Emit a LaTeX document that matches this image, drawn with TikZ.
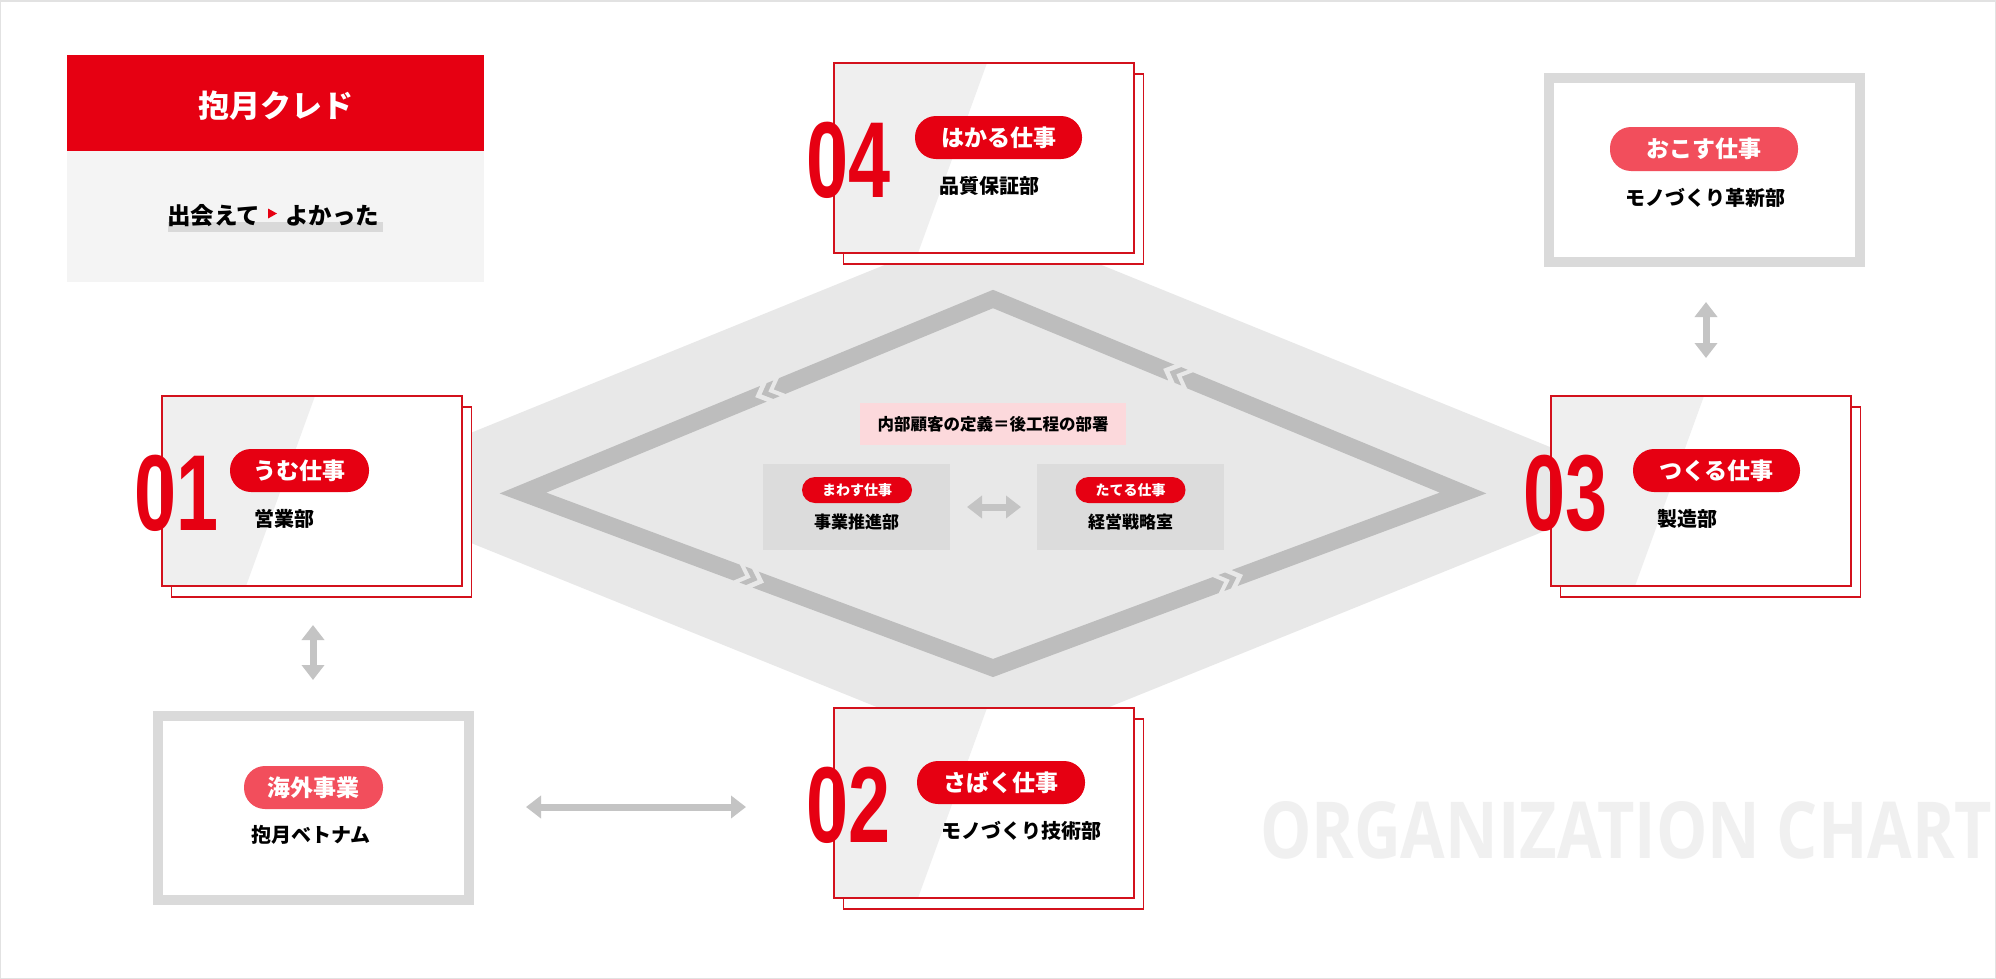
\documentclass[tikz,border=0pt]{standalone}
\usepackage{fontspec}
\usepackage{graphicx}
\newfontfamily\jp{Noto Sans CJK JP}
\newfontfamily\numfont{Liberation Sans}
\newfontfamily\enfont{Open Sans}
\usetikzlibrary{arrows.meta}
\definecolor{cred}{HTML}{E60012}
\definecolor{cline}{HTML}{D3111C}
\definecolor{cpink}{HTML}{F24E5C}
\definecolor{crhomb}{HTML}{E8E8E8}
\definecolor{cband}{HTML}{BDBDBD}
\definecolor{cslant}{HTML}{EFEFEF}
\definecolor{cframe}{HTML}{DADADA}
\definecolor{csub}{HTML}{DCDCDC}
\definecolor{clabel}{HTML}{FCD9DC}
\definecolor{ccredo}{HTML}{F4F4F4}
\definecolor{carrow}{HTML}{C4C4C4}
\definecolor{cborder}{HTML}{E2E2E2}
\definecolor{cwm}{HTML}{F0F0F0}
\definecolor{chl}{HTML}{D9D9D9}
\newcommand\deptbox[8]{%
  \node[deptback] (#1b) at (#2+9.5,#3+11) {};
  \fill[white] (#2,#3) rectangle (#2+300,#3+190);
  \fill[cslant] (#2,#3) -- (#2+153,#3) -- (#2+84,#3+190) -- (#2,#3+190) -- cycle;
  \node[deptfront] (#1) at (#2,#3) {};
  \node[bignum] (#1n) at (#2-28,#3+134) {\scalebox{0.7}[1]{#4}};
  \node[pill, minimum width=#6bp, anchor=north west] (#1p) at (#5,#3+53) {#7};
  \node[subtxt, anchor=west] (#1s) at (#5+24,#3+123) {#8};
}
\newcommand\chev[3]{%
  \begin{scope}[shift={(#1,#2)}, rotate=#3]
    \fill[crhomb] (-13,9.6) -- (-13,8.5) -- (-4,0) -- (-13,-8.5) -- (-13,-9.6) -- (7,-9.6) -- (7,-8.5) -- (16,0) -- (7,8.5) -- (7,9.6) -- cycle;
    \fill[cband] (-7,8.5) -- (2,0) -- (-7,-8.5) -- (0,-8.5) -- (9,0) -- (0,8.5) -- cycle;
  \end{scope}}
\begin{document}
\begin{tikzpicture}[x=1bp,y=-1bp,
  every node/.style={inner sep=0pt, outer sep=0pt},
  deptline/.style={draw=cline, line width=1.6bp},
  deptback/.style={deptline, fill=white, minimum width=300bp, minimum height=190bp, anchor=north west},
  deptfront/.style={deptline, minimum width=300bp, minimum height=190bp, anchor=north west},
  bignum/.style={text=cred, font=\numfont\bfseries\fontsize{108bp}{108bp}\selectfont, anchor=base west},
  pill/.style={fill=cred, text=white, rounded corners=21bp, minimum height=43bp, font=\jp\bfseries\fontsize{23bp}{23bp}\selectfont},
  pinkpill/.style={pill, fill=cpink},
  smallpill/.style={fill=cred, text=white, rounded corners=13bp, minimum height=26bp, minimum width=110bp, font=\jp\bfseries\fontsize{14bp}{14bp}\selectfont},
  subtxt/.style={text=black, font=\jp\bfseries\fontsize{20bp}{20bp}\selectfont},
  smalltxt/.style={text=black, font=\jp\bfseries\fontsize{17bp}{17bp}\selectfont},
  frame/.style={draw=cframe, line width=10bp, fill=white, minimum width=311bp, minimum height=184bp},
  subbox/.style={fill=csub, minimum width=187bp, minimum height=86bp},
  dbl/.style={draw=carrow, line width=7bp, {Triangle[width=22bp,length=15bp]}-{Triangle[width=22bp,length=15bp]}},
]
\useasboundingbox (0,0) rectangle (1996,979);
\fill[white] (0,0) rectangle (1996,979);
\draw[cborder, line width=1.5bp] (0.75,0.75) rectangle (1995.25,978.25);

% credo
\node[fill=cred, minimum width=417bp, minimum height=96bp, anchor=north west] (credoh) at (67,55) {};
\node[text=white, font=\jp\bfseries\fontsize{31bp}{31bp}\selectfont] (credot) at (275.5,106) {抱月クレド};
\node[fill=ccredo, minimum width=417bp, minimum height=131bp, anchor=north west] (credob) at (67,151) {};
\fill[chl] (168,222) rectangle (383,232);
\node[font=\jp\bfseries\fontsize{23.5bp}{23.5bp}\selectfont, anchor=west] (mot1) at (167,216) {出会えて};
\fill[cred] (268,208.5) -- (277,213.5) -- (268,218.5) -- cycle;
\node[font=\jp\bfseries\fontsize{23.5bp}{23.5bp}\selectfont, anchor=west] (mot2) at (285,216) {よかった};

% central rhombus
\fill[crhomb] (335,488) -- (993,221) -- (1651,488) -- (993,754) -- cycle;
\draw[cband, line width=17bp, line join=miter, miter limit=10] (523,493) -- (993,299) -- (1463,493) -- (993,668) -- cycle;
\chev{770}{391}{202.43}
\chev{1178}{375}{157.57}
\chev{749}{577}{-20.42}
\chev{1228}{580.5}{20.42}

% center content
\node[fill=clabel, minimum width=266bp, minimum height=42bp, font=\jp\bfseries\fontsize{16.5bp}{16.5bp}\selectfont] (lbl) at (993,424) {内部顧客の定義＝後工程の部署};
\node[subbox] (sbL) at (856.5,507) {};
\node[smallpill] (sbLp) at (857,490) {まわす仕事};
\node[smalltxt] (sbLt) at (856.5,522) {事業推進部};
\node[subbox] (sbR) at (1130.5,507) {};
\node[smallpill] (sbRp) at (1130.5,490) {たてる仕事};
\node[smalltxt] (sbRt) at (1130.5,522) {経営戦略室};
\draw[dbl, shorten <=17bp, shorten >=16bp] (sbL.east) -- (sbR.west);

% department boxes
\deptbox{d04}{834}{63}{04}{915}{167}{はかる仕事}{品質保証部}
\deptbox{d01}{162}{396}{01}{230}{139}{うむ仕事}{営業部}
\deptbox{d03}{1551}{396}{03}{1633}{167}{つくる仕事}{製造部}
\deptbox{d02}{834}{708}{02}{917}{168}{さばく仕事}{モノづくり技術部}

% gray framed boxes
\node[frame] (okosu) at (1704,170) {};
\node[pinkpill, minimum width=188bp, minimum height=44bp] (okosup) at (1704,149) {おこす仕事};
\node[subtxt] (okosus) at (1705,198) {モノづくり革新部};
\node[frame] (kaigai) at (313.5,808) {};
\node[pinkpill, minimum width=139bp] (kaigaip) at (313.5,787.5) {海外事業};
\node[subtxt] (kaigais) at (311,835) {抱月ベトナム};

% arrows
\coordinate (a1s) at (313,625);
\coordinate (a1e) at (313,680);
\draw[dbl] (a1s) -- (a1e);
\coordinate (a2s) at (526,807);
\coordinate (a2e) at (746,807);
\draw[dbl] (a2s) -- (a2e);
\coordinate (a3s) at (1706,302);
\coordinate (a3e) at (1706,358);
\draw[dbl] (a3s) -- (a3e);

% watermark
\node[anchor=south west, text=cwm] (wm) at (1260,859) {\resizebox{732bp}{57bp}{\enfont\bfseries ORGANIZATION CHART}};
\end{tikzpicture}
\end{document}
